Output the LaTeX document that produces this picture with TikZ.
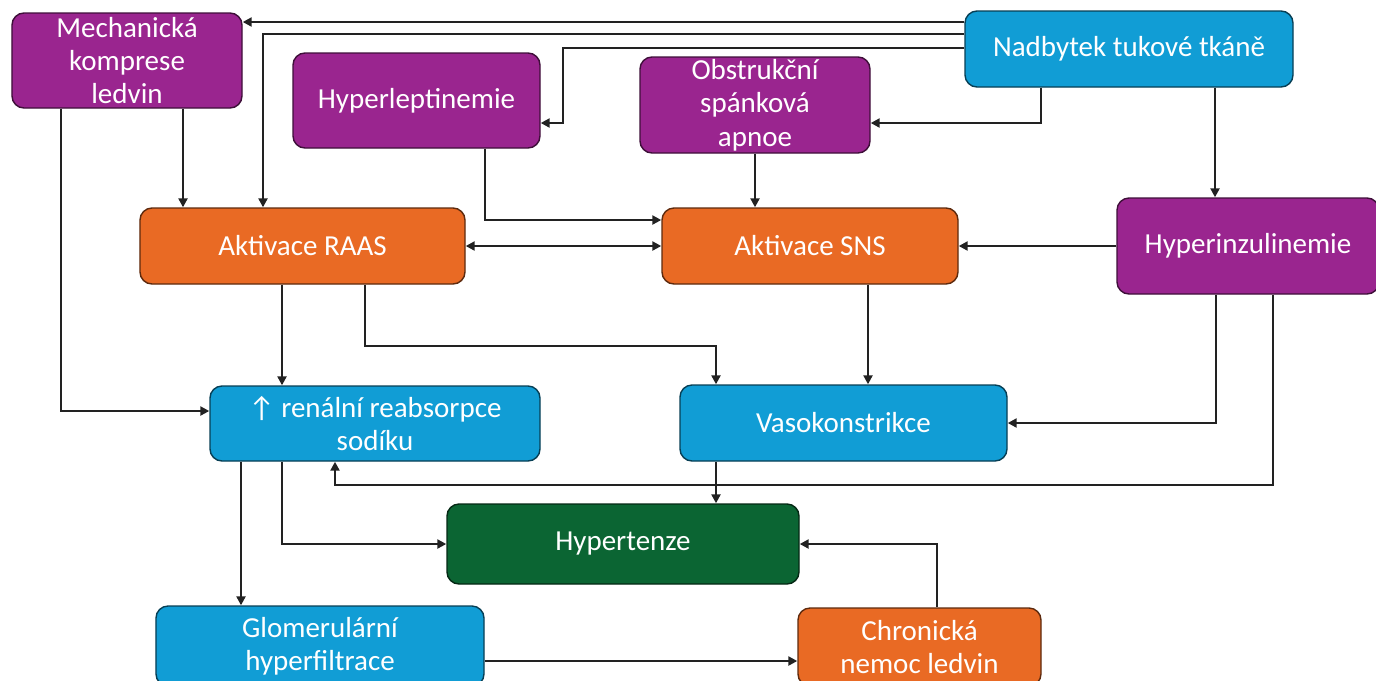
\documentclass[tikz,border=0pt]{standalone}
\usepackage{fontspec}
\setmainfont{Carlito}
\usetikzlibrary{arrows.meta}

\definecolor{fialova}{HTML}{9A258F}
\definecolor{oranzova}{HTML}{E96A24}
\definecolor{modra}{HTML}{119DD5}
\definecolor{zelena}{HTML}{0B6533}
\definecolor{cara}{HTML}{222222}

\tikzset{
	box/.style={draw, rounded corners=2.4mm, line width=0.8pt, align=center,
		text=white, inner sep=1pt, font=\fontsize{16.5}{19}\selectfont},
	rizik/.style={box, fill=fialova, draw=fialova!40!black},
	mech/.style={box, fill=oranzova, draw=oranzova!40!black},
	dusl/.style={box, fill=modra, draw=modra!40!black},
	cil/.style={box, fill=zelena, draw=zelena!40!black},
	arr/.style={draw=cara, line width=1.6pt, -{Triangle[length=1.8mm, width=1.8mm]}},
	arr2/.style={arr, {Triangle[length=1.8mm, width=1.8mm]}-{Triangle[length=1.8mm, width=1.8mm]}}
}

\begin{document}
\begin{tikzpicture}[x=0.2mm, y=-0.2mm]
	\useasboundingbox (0,0) rectangle (1376,680);
	\clip (0,0) rectangle (1376,680);
	
	\node[rizik, minimum width=46mm, minimum height=19mm] (mechkomp) at (127,60.5) {Mechanická\\komprese\\ledvin};
	\node[rizik, minimum width=49.4mm, minimum height=19mm] (hyperlep) at (416.5,100.5) {Hyperleptinemie};
	\node[rizik, minimum width=46mm, minimum height=19.2mm] (osa) at (755,105) {Obstrukční\\spánková\\apnoe};
	\node[dusl, minimum width=65.6mm, minimum height=15.2mm] (nadbytek) at (1129,49) {Nadbytek tukové tkáně};
	
	\node[mech, minimum width=65mm, minimum height=15.2mm] (raas) at (302.5,246) {Aktivace RAAS};
	\node[mech, minimum width=59.2mm, minimum height=15.2mm] (sns) at (810,246) {Aktivace SNS};
	\node[rizik, minimum width=52.4mm, minimum height=19.2mm] (hyperinz) at (1248,246) {Hyperinzulinemie};
	
	\node[dusl, minimum width=66mm, minimum height=15mm] (renal) at (375,423.5) {↑ renální reabsorpce\\sodíku};
	\node[dusl, minimum width=65.4mm, minimum height=15.2mm] (vaso) at (843.5,423) {Vasokonstrikce};
	
	\node[cil, minimum width=70.4mm, minimum height=16mm] (hypertenze) at (623,544) {Hypertenze};
	
	\node[dusl, minimum width=65.6mm, minimum height=16mm] (glom) at (320,646) {Glomerulární\\hyperfiltrace};
	\node[mech, minimum width=48.6mm, minimum height=15.6mm] (ckd) at (919.5,647) {Chronická\\nemoc ledvin};
	
	% nadbytek tukove tkane
	\draw[arr] (nadbytek.west |- 0,22) -- (mechkomp.east |- 0,22);
	\draw[arr] (nadbytek.west |- 0,34) -| (raas.north -| 263,0);
	\draw[arr] (nadbytek.west |- 0,48) -| (563,123) -- (hyperlep.east |- 0,123);
	\draw[arr] (nadbytek.south -| 1041,0) |- (osa.east |- 0,123);
	\draw[arr] (nadbytek.south -| 1215,0) -- (hyperinz.north -| 1215,0);
	
	% horni rada
	\draw[arr] (mechkomp.south -| 183,0) -- (raas.north -| 183,0);
	\draw[arr] (mechkomp.south -| 61,0) |- (renal.west |- 0,411);
	\draw[arr] (hyperlep.south -| 485,0) |- (sns.west |- 0,220);
	\draw[arr] (osa.south) -- (sns.north -| osa.south);
	
	% stredni rada
	\draw[arr2] (raas.east) -- (sns.west);
	\draw[arr] (hyperinz.west) -- (sns.east);
	\draw[arr] (raas.south -| 282,0) -- (renal.north -| 282,0);
	\draw[arr] (raas.south -| 365,0) |- (716,346) -- (vaso.north -| 716,0);
	\draw[arr] (sns.south -| 868,0) -- (vaso.north -| 868,0);
	\draw[arr] (hyperinz.south -| 1216,0) |- (vaso.east);
	\draw[arr] (hyperinz.south -| 1273,0) |- (335,485) -- (renal.south -| 335,0);
	
	% spodni rada
	\draw[arr] (vaso.south -| 716,0) -- (hypertenze.north -| 716,0);
	\draw[arr] (renal.south -| 282,0) |- (hypertenze.west);
	\draw[arr] (renal.south -| 241,0) -- (glom.north -| 241,0);
	\draw[arr] (glom.east |- 0,661) -- (ckd.west |- 0,661);
	\draw[arr] (ckd.north -| 937,0) |- (hypertenze.east);
\end{tikzpicture}
\end{document}
